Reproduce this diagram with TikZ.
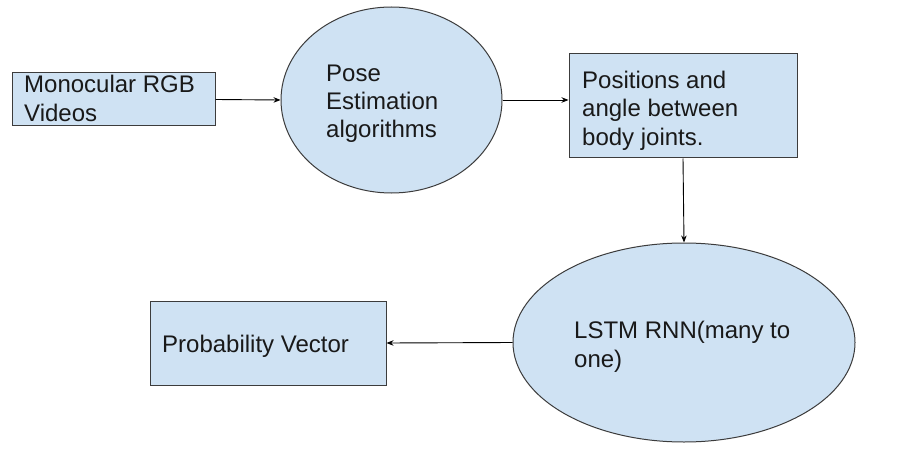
\documentclass[tikz,border=0pt]{standalone}
\usepackage{fontspec}
\setmainfont{Liberation Sans}
\usetikzlibrary{shapes.geometric,arrows.meta}
\definecolor{boxfill}{HTML}{CFE2F3}
\definecolor{boxline}{HTML}{3C3C3C}
\begin{document}
\begin{tikzpicture}[x=1pt,y=-1pt,
  rectbox/.style={draw=boxline,fill=boxfill,line width=1pt,inner sep=0pt,rectangle},
  ellbox/.style={draw=boxline,fill=boxfill,line width=1pt,inner sep=0pt,ellipse},
  lbl/.style={anchor=base west,inner sep=0pt,font=\fontsize{24}{28}\selectfont,text=black!90},
  conn/.style={draw=black,line width=0.9pt,-{Stealth[length=7pt,width=5.5pt]}}]
\useasboundingbox[fill=white] (0,0) rectangle (901,449);
% shapes
\node[rectbox,minimum width=203pt,minimum height=53pt] (b1) at (113.5,99.5) {};
\node[ellbox,minimum width=221pt,minimum height=186pt] (e1) at (391.5,100) {};
\node[rectbox,minimum width=228pt,minimum height=104pt] (b2) at (683,106) {};
\node[ellbox,minimum width=342pt,minimum height=199pt] (e2) at (684,342.5) {};
\node[rectbox,minimum width=236pt,minimum height=84pt] (b3) at (268,343) {};
% texts
\node[lbl] (t1a) at (24,93) {Monocular RGB};
\node[lbl] (t1b) at (24,122) {Videos};
\node[lbl] (t2a) at (326,82) {Pose};
\node[lbl] (t2b) at (326,110) {Estimation};
\node[lbl] (t2c) at (326,138) {algorithms};
\node[lbl] (t3a) at (582,89) {Positions and};
\node[lbl] (t3b) at (582,117) {angle between};
\node[lbl] (t3c) at (582,146) {body joints.};
\node[lbl] (t4a) at (574,338) {LSTM RNN(many to};
\node[lbl] (t4b) at (574,367) {one)};
\node[lbl] (t5a) at (162,352) {Probability Vector};
% connectors
\draw[conn] (b1.east) -- (e1.west);
\draw[conn] (e1.east) -- (e1.east -| b2.west);
\draw[conn] (b2.south) -- (e2.north);
\draw[conn] (e2.west) -- (b3.east);
\end{tikzpicture}
\end{document}
